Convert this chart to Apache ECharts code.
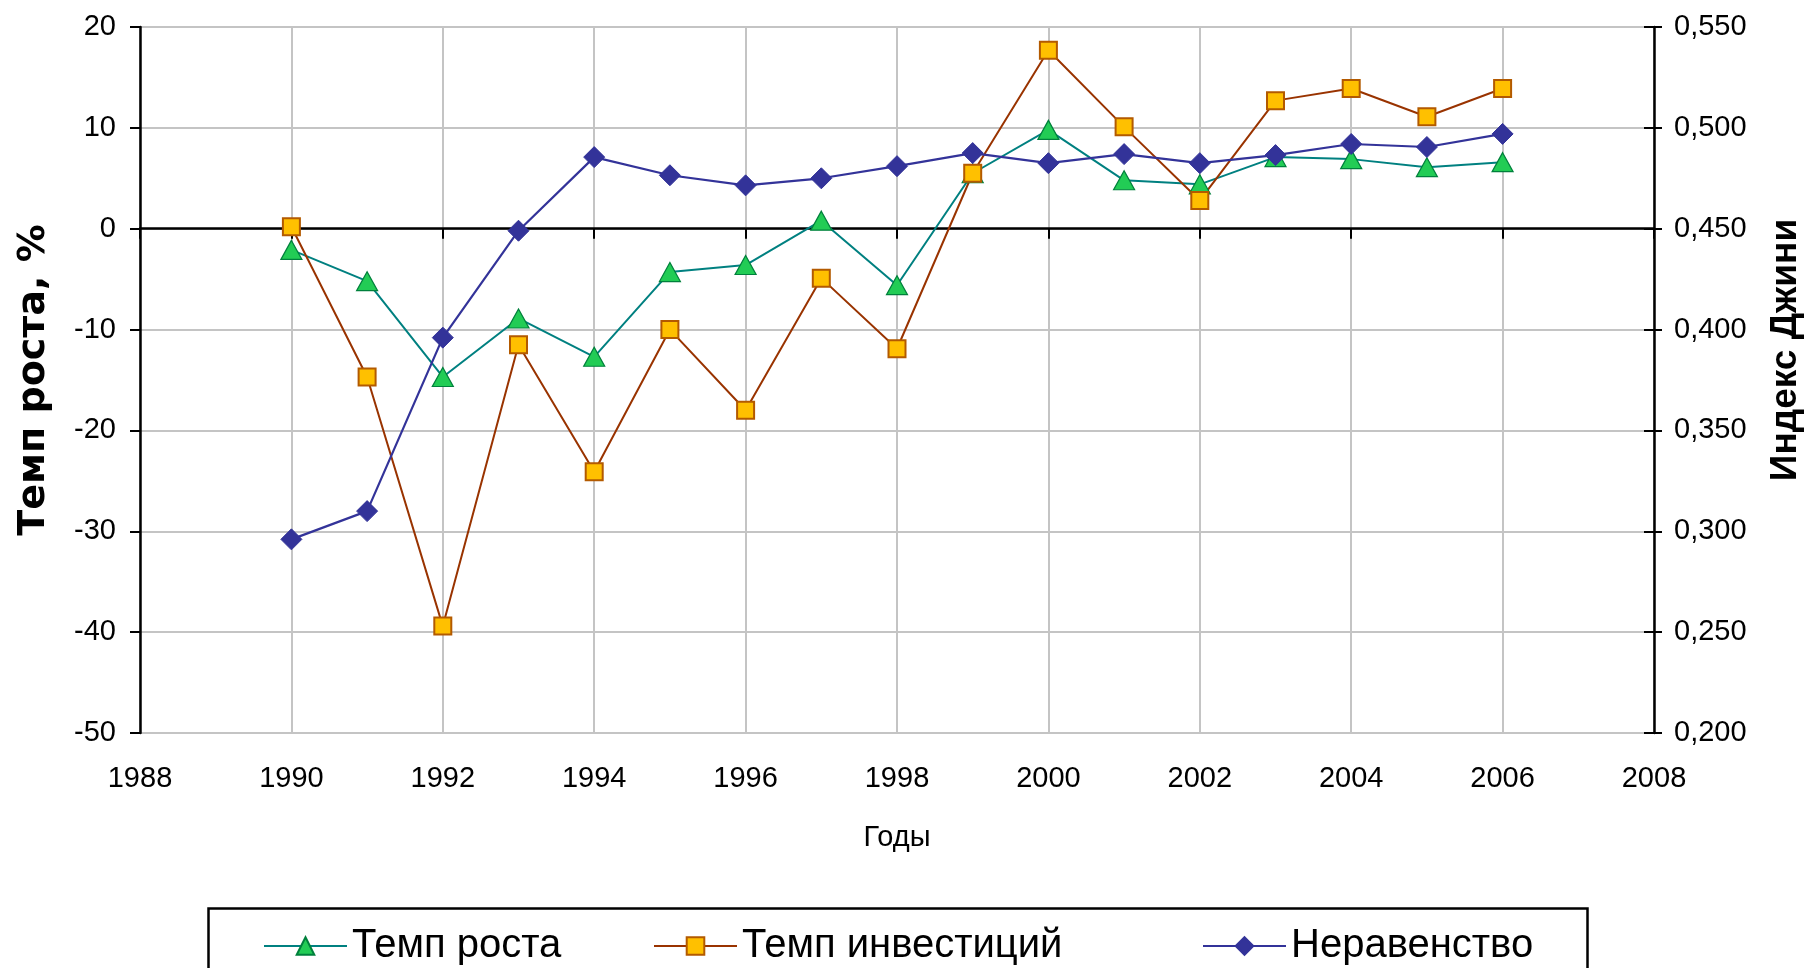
<!DOCTYPE html>
<html>
<head>
<meta charset="utf-8">
<script src="https://cdn.jsdelivr.net/npm/echarts@6/dist/echarts.min.js"></script>
<style>
html,body{margin:0;padding:0;background:#fff;}
#chart{width:1812px;height:968px;}
</style>
</head>
<body>
<div id="chart"></div>
<script>
const years = [1990,1991,1992,1993,1994,1995,1996,1997,1998,1999,2000,2001,2002,2003,2004,2005,2006];
const growth = [-2.1,-5.2,-14.7,-8.9,-12.7,-4.3,-3.6,0.8,-5.6,5.5,9.8,4.8,4.4,7.1,6.9,6.1,6.6];
const investment = [0.2,-14.7,-39.4,-11.5,-24.1,-10.0,-18.0,-4.9,-11.9,5.5,17.7,10.1,2.8,12.7,13.9,11.1,13.9];
const gini = [0.296,0.310,0.396,0.449,0.4855,0.4765,0.4715,0.475,0.481,0.4875,0.4825,0.487,0.4825,0.4865,0.492,0.4905,0.497];
const seriesNames = ['Темп роста','Темп инвестиций','Неравенство'];
const leftAxisName = 'Темп роста, %';
const rightAxisName = 'Индекс Джини';
const xAxisName = 'Годы';

const pairs = (xs, ys) => xs.map((x, i) => [x, ys[i]]);
const FONT = "'Liberation Sans', Arial, sans-serif";
const TITLE_FONT = "'DejaVu Sans', 'Liberation Sans', sans-serif";

const chart = echarts.init(document.getElementById('chart'), null, {renderer: 'canvas'});

const legendBase = {
  orient: 'horizontal', top: 926, itemWidth: 83, itemHeight: 22, padding: 0,
  textStyle: {fontFamily: FONT, fontSize: 40, color: '#000'}, selectedMode: false
};

const option = {
  backgroundColor: '#fff',
  animation: false,
  grid: {left: 140, right: 144, top: 27, bottom: 235, containLabel: false},
  xAxis: [
    {
      type: 'value', min: 1988, max: 2008, interval: 2,
      name: xAxisName, nameLocation: 'middle', nameGap: 90,
      nameTextStyle: {fontFamily: FONT, fontSize: 29, color: '#000'},
      axisLine: {show: false, onZero: false},
      axisTick: {show: false},
      axisLabel: {fontFamily: FONT, fontSize: 29, color: '#000', margin: 31, formatter: v => String(v)},
      splitLine: {show: true, lineStyle: {color: '#c4c4c4', width: 2}}
    },
    {
      type: 'value', min: 1988, max: 2008, interval: 2, position: 'bottom',
      axisLine: {show: true, onZero: true, onZeroAxisIndex: 0, lineStyle: {color: '#000', width: 2.5}},
      axisTick: {show: true, inside: false, length: 10, lineStyle: {color: '#000', width: 2}},
      axisLabel: {show: false},
      splitLine: {show: false}
    }
  ],
  yAxis: [
    {
      type: 'value', min: -50, max: 20, interval: 10, position: 'left',
      name: leftAxisName, nameLocation: 'middle', nameGap: 87,
      nameTextStyle: {fontFamily: TITLE_FONT, fontSize: 38, fontWeight: 'bold', color: '#000'},
      axisLine: {show: true, onZero: false, lineStyle: {color: '#000', width: 2.5}},
      axisTick: {show: true, length: 10, lineStyle: {color: '#000', width: 2}},
      axisLabel: {fontFamily: FONT, fontSize: 29, color: '#000', margin: 24},
      splitLine: {show: true, lineStyle: {color: '#c4c4c4', width: 2}}
    },
    {
      type: 'value', min: 0.2, max: 0.55, interval: 0.05, position: 'right',
      name: rightAxisName, nameLocation: 'middle', nameGap: 113,
      nameTextStyle: {fontFamily: FONT, fontSize: 37, fontWeight: 'bold', color: '#000', padding: [0, 0, 0, 60]},
      axisLine: {show: true, onZero: false, lineStyle: {color: '#000', width: 2.5}},
      axisTick: {show: true, length: 8, lineStyle: {color: '#000', width: 2}},
      axisLabel: {fontFamily: FONT, fontSize: 29, color: '#000', margin: 20, formatter: v => v.toFixed(3).replace('.', ',')},
      splitLine: {show: false}
    },
    {
      type: 'value', min: 0.2, max: 0.55, interval: 0.05, position: 'right',
      axisLine: {show: false, onZero: false},
      axisTick: {show: true, inside: true, length: 10, lineStyle: {color: '#000', width: 2}},
      axisLabel: {show: false},
      splitLine: {show: false}
    }
  ],
  legend: [
    Object.assign({}, legendBase, {left: 263, data: [seriesNames[0]]}),
    Object.assign({}, legendBase, {left: 653, data: [seriesNames[1]]}),
    Object.assign({}, legendBase, {left: 1202, data: [seriesNames[2]]})
  ],
  graphic: [
    {type: 'rect', left: 206, top: 906, shape: {width: 1379, height: 90},
     style: {fill: 'none', stroke: '#000', lineWidth: 2.5}, silent: true}
  ],
  series: [
    {
      name: seriesNames[0], type: 'line', xAxisIndex: 0, yAxisIndex: 0,
      data: pairs(years, growth),
      symbol: 'triangle', symbolSize: [21, 19],
      lineStyle: {color: '#008080', width: 2},
      itemStyle: {color: '#22cc55', borderColor: '#00803c', borderWidth: 1.2}
    },
    {
      name: seriesNames[1], type: 'line', xAxisIndex: 0, yAxisIndex: 0,
      data: pairs(years, investment),
      symbol: 'rect', symbolSize: 17,
      lineStyle: {color: '#993300', width: 2},
      itemStyle: {color: '#ffc000', borderColor: '#b35a00', borderWidth: 2}
    },
    {
      name: seriesNames[2], type: 'line', xAxisIndex: 0, yAxisIndex: 1,
      data: pairs(years, gini),
      symbol: 'diamond', symbolSize: 21,
      lineStyle: {color: '#333399', width: 2.2},
      itemStyle: {color: '#333399', borderColor: '#333399', borderWidth: 1}
    }
  ]
};
chart.setOption(option);
</script>
</body>
</html>
